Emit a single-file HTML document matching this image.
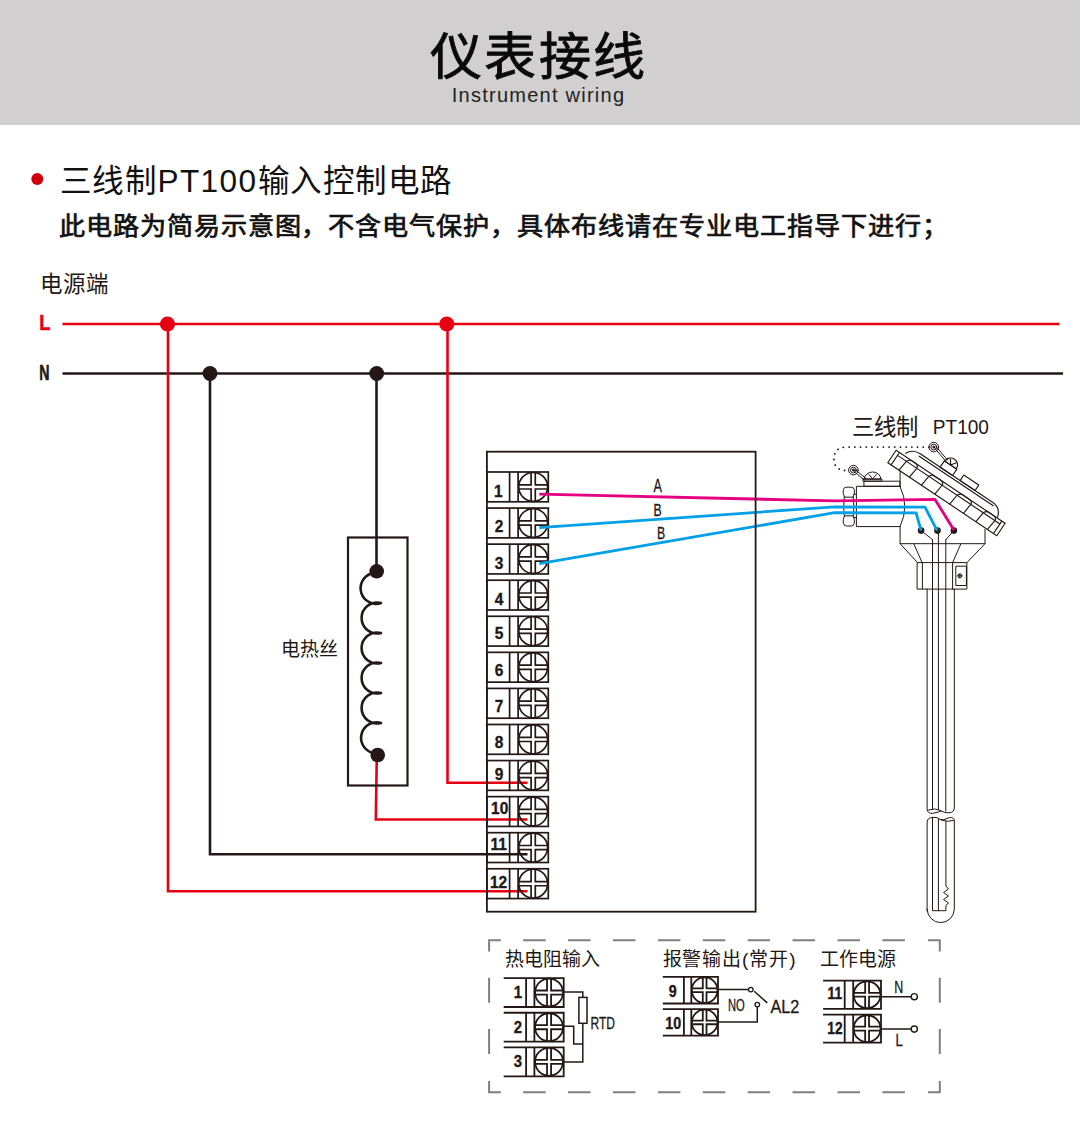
<!DOCTYPE html>
<html lang="zh-CN"><head><meta charset="utf-8">
<style>
html,body{margin:0;padding:0;background:#fff;width:1080px;height:1124px;overflow:hidden}
svg{display:block;font-family:"Liberation Sans",sans-serif}
</style></head>
<body>
<svg width="1080" height="1124" viewBox="0 0 1080 1124">

<rect x="0" y="0" width="1080" height="125" fill="#d1cfd0"/>
<text x="0" y="0" font-size="54" letter-spacing="2.7" text-anchor="middle" fill="#0a0a0a" stroke="#0a0a0a" stroke-width="0.9" transform="translate(538.5 74.5) scale(0.965 0.94)">仪表接线</text>
<text x="538.5" y="102" font-size="20" letter-spacing="1.25" text-anchor="middle" fill="#222">Instrument wiring</text>
<circle cx="37.3" cy="179" r="6" fill="#d0000f"/>
<text x="0" y="0" font-size="32.7" letter-spacing="1.5" fill="#111" transform="translate(59.8 192.3) scale(0.965 0.96)">三线制PT100输入控制电路</text>
<text x="0" y="0" font-size="27" letter-spacing="0.63" fill="#111" stroke="#111" stroke-width="0.75" transform="translate(58.6 234.6) scale(0.968 0.94)">此电路为简易示意图，不含电气保护，具体布线请在专业电工指导下进行；</text>
<text x="40" y="291.7" font-size="22.5" fill="#231815">电源端</text>
<text x="0" y="0" font-size="22.5" font-weight="bold" fill="#e60012" text-anchor="start" stroke="#e60012" stroke-width="0.5" transform="translate(39.20 330.30) scale(0.82 1)">L</text>
<text x="0" y="0" font-size="21.5" font-weight="bold" fill="#231815" text-anchor="start" stroke="#231815" stroke-width="0.6" transform="translate(39.20 380.20) scale(0.66 1)">N</text>
<g stroke-width="2.6" fill="none">
  <path d="M62.5 324H1059.5" stroke="#e60012"/>
  <path d="M62.5 373.5H1063" stroke="#231815"/>
  <path d="M168 324V891.3H527.5" stroke="#e60012"/>
  <path d="M447.5 324V782.8H527.5" stroke="#e60012"/>
  <path d="M210 373.5V854.2H527.5" stroke="#231815"/>
  <path d="M376.5 373.5V571" stroke="#231815"/>
  <path d="M376.8 755L375.8 819.5H527.5" stroke="#e60012"/>
</g>
<g fill="#e60012"><circle cx="167.5" cy="324" r="7.6"/><circle cx="446.8" cy="324" r="7.6"/></g>
<g fill="#231815"><circle cx="210" cy="373.5" r="7.4"/><circle cx="376.7" cy="373.5" r="7.4"/></g>

<rect x="348" y="537.5" width="59.5" height="248" fill="none" stroke="#231815" stroke-width="2.2"/>
<path d="M371.3 573.5 A15.5 15.5 0 1 0 381 603 A15.5 15.5 0 1 0 381 633 A15.5 15.5 0 1 0 381 663 A15.5 15.5 0 1 0 381 693 A15.5 15.5 0 1 0 381 723 A15.5 15.5 0 0 0 371.5 752.5" fill="none" stroke="#231815" stroke-width="2.6" stroke-linejoin="round"/>
<circle cx="376.7" cy="571.3" r="7.3" fill="#231815"/><circle cx="377.7" cy="755" r="7.3" fill="#231815"/>
<text x="281" y="656" font-size="19" fill="#231815">电热丝</text>
<g stroke="#231815" stroke-width="1.7" fill="none">
<rect x="486.90" y="472.00" width="61.40" height="29.80"/><path d="M509.60 472.00V501.80 M518.10 472.00V501.80"/><circle cx="533.20" cy="486.90" r="14.42"/><path d="M518.10 484.80H531.10V472.00 M535.30 472.00V484.80H548.30 M548.30 489.00H535.30V501.80 M531.10 501.80V489.00H518.10"/>
<rect x="486.90" y="508.07" width="61.40" height="29.80"/><path d="M509.60 508.07V537.87 M518.10 508.07V537.87"/><circle cx="533.20" cy="522.97" r="14.42"/><path d="M518.10 520.87H531.10V508.07 M535.30 508.07V520.87H548.30 M548.30 525.07H535.30V537.87 M531.10 537.87V525.07H518.10"/>
<rect x="486.90" y="544.14" width="61.40" height="29.80"/><path d="M509.60 544.14V573.94 M518.10 544.14V573.94"/><circle cx="533.20" cy="559.04" r="14.42"/><path d="M518.10 556.94H531.10V544.14 M535.30 544.14V556.94H548.30 M548.30 561.14H535.30V573.94 M531.10 573.94V561.14H518.10"/>
<rect x="486.90" y="580.21" width="61.40" height="29.80"/><path d="M509.60 580.21V610.01 M518.10 580.21V610.01"/><circle cx="533.20" cy="595.11" r="14.42"/><path d="M518.10 593.01H531.10V580.21 M535.30 580.21V593.01H548.30 M548.30 597.21H535.30V610.01 M531.10 610.01V597.21H518.10"/>
<rect x="486.90" y="616.28" width="61.40" height="29.80"/><path d="M509.60 616.28V646.08 M518.10 616.28V646.08"/><circle cx="533.20" cy="631.18" r="14.42"/><path d="M518.10 629.08H531.10V616.28 M535.30 616.28V629.08H548.30 M548.30 633.28H535.30V646.08 M531.10 646.08V633.28H518.10"/>
<rect x="486.90" y="652.35" width="61.40" height="29.80"/><path d="M509.60 652.35V682.15 M518.10 652.35V682.15"/><circle cx="533.20" cy="667.25" r="14.42"/><path d="M518.10 665.15H531.10V652.35 M535.30 652.35V665.15H548.30 M548.30 669.35H535.30V682.15 M531.10 682.15V669.35H518.10"/>
<rect x="486.90" y="688.42" width="61.40" height="29.80"/><path d="M509.60 688.42V718.22 M518.10 688.42V718.22"/><circle cx="533.20" cy="703.32" r="14.42"/><path d="M518.10 701.22H531.10V688.42 M535.30 688.42V701.22H548.30 M548.30 705.42H535.30V718.22 M531.10 718.22V705.42H518.10"/>
<rect x="486.90" y="724.49" width="61.40" height="29.80"/><path d="M509.60 724.49V754.29 M518.10 724.49V754.29"/><circle cx="533.20" cy="739.39" r="14.42"/><path d="M518.10 737.29H531.10V724.49 M535.30 724.49V737.29H548.30 M548.30 741.49H535.30V754.29 M531.10 754.29V741.49H518.10"/>
<rect x="486.90" y="760.56" width="61.40" height="29.80"/><path d="M509.60 760.56V790.36 M518.10 760.56V790.36"/><circle cx="533.20" cy="775.46" r="14.42"/><path d="M518.10 773.36H531.10V760.56 M535.30 760.56V773.36H548.30 M548.30 777.56H535.30V790.36 M531.10 790.36V777.56H518.10"/>
<rect x="486.90" y="796.63" width="61.40" height="29.80"/><path d="M509.60 796.63V826.43 M518.10 796.63V826.43"/><circle cx="533.20" cy="811.53" r="14.42"/><path d="M518.10 809.43H531.10V796.63 M535.30 796.63V809.43H548.30 M548.30 813.63H535.30V826.43 M531.10 826.43V813.63H518.10"/>
<rect x="486.90" y="832.70" width="61.40" height="29.80"/><path d="M509.60 832.70V862.50 M518.10 832.70V862.50"/><circle cx="533.20" cy="847.60" r="14.42"/><path d="M518.10 845.50H531.10V832.70 M535.30 832.70V845.50H548.30 M548.30 849.70H535.30V862.50 M531.10 862.50V849.70H518.10"/>
<rect x="486.90" y="868.77" width="61.40" height="29.80"/><path d="M509.60 868.77V898.57 M518.10 868.77V898.57"/><circle cx="533.20" cy="883.67" r="14.42"/><path d="M518.10 881.57H531.10V868.77 M535.30 868.77V881.57H548.30 M548.30 885.77H535.30V898.57 M531.10 898.57V885.77H518.10"/>
</g>
<text x="0" y="0" font-size="17.2" font-weight="bold" fill="#231815" text-anchor="middle" stroke="#231815" stroke-width="0.35" transform="translate(498.40 497.00) scale(0.9 1)">1</text>
<text x="0" y="0" font-size="17.2" font-weight="bold" fill="#231815" text-anchor="middle" stroke="#231815" stroke-width="0.35" transform="translate(499.00 532.40) scale(0.9 1)">2</text>
<text x="0" y="0" font-size="17.2" font-weight="bold" fill="#231815" text-anchor="middle" stroke="#231815" stroke-width="0.35" transform="translate(499.00 569.10) scale(0.9 1)">3</text>
<text x="0" y="0" font-size="17.2" font-weight="bold" fill="#231815" text-anchor="middle" stroke="#231815" stroke-width="0.35" transform="translate(499.00 604.50) scale(0.9 1)">4</text>
<text x="0" y="0" font-size="17.2" font-weight="bold" fill="#231815" text-anchor="middle" stroke="#231815" stroke-width="0.35" transform="translate(499.00 639.40) scale(0.9 1)">5</text>
<text x="0" y="0" font-size="17.2" font-weight="bold" fill="#231815" text-anchor="middle" stroke="#231815" stroke-width="0.35" transform="translate(499.00 676.00) scale(0.9 1)">6</text>
<text x="0" y="0" font-size="17.2" font-weight="bold" fill="#231815" text-anchor="middle" stroke="#231815" stroke-width="0.35" transform="translate(499.00 711.50) scale(0.9 1)">7</text>
<text x="0" y="0" font-size="17.2" font-weight="bold" fill="#231815" text-anchor="middle" stroke="#231815" stroke-width="0.35" transform="translate(499.00 747.50) scale(0.9 1)">8</text>
<text x="0" y="0" font-size="17.2" font-weight="bold" fill="#231815" text-anchor="middle" stroke="#231815" stroke-width="0.35" transform="translate(499.00 779.70) scale(0.9 1)">9</text>
<text x="0" y="0" font-size="17.2" font-weight="bold" fill="#231815" text-anchor="middle" stroke="#231815" stroke-width="0.35" transform="translate(499.70 814.40) scale(0.9 1)">10</text>
<text x="0" y="0" font-size="17.2" font-weight="bold" fill="#231815" text-anchor="middle" stroke="#231815" stroke-width="0.35" transform="translate(498.60 849.80) scale(0.9 1)">11</text>
<text x="0" y="0" font-size="17.2" font-weight="bold" fill="#231815" text-anchor="middle" stroke="#231815" stroke-width="0.35" transform="translate(498.60 887.80) scale(0.9 1)">12</text>
<text x="852" y="434.8" font-size="22.3" fill="#231815" stroke="#231815" stroke-width="0.12">三线制</text>
<text x="0" y="0" font-size="20.5" font-weight="normal" fill="#231815" text-anchor="start" transform="translate(932.80 433.60) scale(0.93 1)">PT100</text>
<g fill="none" stroke="#231815" stroke-width="1" stroke-linejoin="round" stroke-linecap="round">
<path d="M929 447.1H846 Q834 447.5 834 459 Q834 470.6 847 470.6" stroke-dasharray="0.1 5.6" stroke-width="1.8"/>
<circle cx="853.4" cy="470.1" r="4.8"/><circle cx="853.4" cy="470.1" r="2.9"/><circle cx="853.4" cy="470.1" r="1" fill="#231815"/>
<circle cx="933.8" cy="447.1" r="4.8"/><circle cx="933.8" cy="447.1" r="2.9"/><circle cx="933.8" cy="447.1" r="1" fill="#231815"/>
<path d="M854 471.5L864.5 480.2 M855.5 470L866 478.5"/>
<path d="M935 448.5L946 461.5 M936.8 447.5L947.5 460"/>
<path d="M864.3 478.9A8.3 6.9 0 0 1 880.9 478.9Z M869 474.5L872.6 478.9L876.3 474.5"/>
<rect x="863.3" y="478.9" width="18.6" height="2.3"/>
<rect x="864.3" y="481.2" width="35.7" height="5.1"/>
<path d="M900 486.3H856.4V526.6H900 M900 486.3Q909.8 506.5 900 526.6"/>
<path d="M844.3 496.8Q842.6 493 843.3 489.8Q844 487.2 846.5 487.2H851.5Q853.8 487.2 854.3 489.8Q855 493 853.3 496.8Z"/>
<path d="M844.3 516.2Q842.6 520 843.3 523.2Q844 526 846.5 526H851.5Q853.8 526 854.3 523.2Q855 520 853.3 516.2Z"/>
<path d="M844.3 496.8Q843 506.5 844.3 516.2 M853.3 496.8Q854.6 506.5 853.3 516.2 M853.8 494.2H856.4 M853.8 517.5H856.4"/>
<path d="M900.1 471.1V486.3 M900.1 526.6V543.7H985V529.4"/>
<path d="M900.1 543.7L917.5 562.6 M985 543.7L966.9 562.6 M913.9 544L922.1 562.6 M960.8 544L952.6 562.6"/>
<rect x="917.5" y="562.6" width="49.4" height="26.5"/>
<path d="M922.4 562.6V589.1 M952.6 562.6V589.1"/>
<rect x="956.2" y="566.2" width="10.2" height="19.3"/>
<circle cx="959.8" cy="575.8" r="2"/><path d="M957.8 575.8H961.8M959.8 573.8V577.8"/>
<path d="M927.1 589.1V809 Q927.5 814 933 813.3 Q939 812 941 811 Q944.5 813 949 812.8 Q954.3 812.5 954.3 808V589.1"/>
<path d="M928.5 810Q935 807.5 941 810.5"/>
<path d="M932.5 539.7V809.5 M938.4 531V809.5 M945.8 539.7V811"/>
<path d="M921.1 530.6L932.6 539.7 M953.9 530.6L945.8 539.7"/>
<path d="M927.1 911V822 Q927.5 817.5 933 817.3 Q938 817 940 819.5 Q943 820.5 947 818.5 Q952 816 954.3 819.5V909 A13.6 13.6 0 0 1 927.1 909"/>
<path d="M941 820Q948 822.5 953.5 820.5"/>
<path d="M932.5 817.5V910.7H945.9V905.3L948.5 903L943.5 899.5L948.5 896L943.5 892.5L948.5 889L945.9 886V821 M938.4 818.5V910.7"/>
</g>
<g transform="translate(887.8 462.7) rotate(33.8)" fill="none" stroke="#231815" stroke-width="1.15" stroke-linejoin="round">
<rect x="0" y="-14.9" width="131.2" height="14.9"/>
<path d="M4 -14.9V0 M127.2 -14.9V0 M4 -11.5H127.2"/>
<path d="M13.5 0L14.7 -11.8"/>
<path d="M26 0L27.2 -11.8"/>
<path d="M40.5 0L41.7 -11.8"/>
<path d="M56.5 0L57.7 -11.8"/>
<path d="M74.5 0L75.7 -11.8"/>
<path d="M91 0L92.2 -11.8"/>
<path d="M106 0L107.2 -11.8"/>
<path d="M120 0L121.2 -11.8"/>
<path d="M14.7 -11.8Q16.5 -14.9 19.0 -14.9L22.5 -14.9Q27 -14.9 27.2 -11.8"/>
<path d="M41.7 -11.8Q43.5 -14.9 46.0 -14.9L53.0 -14.9Q57.5 -14.9 57.7 -11.8"/>
<path d="M75.7 -11.8Q77.5 -14.9 80.0 -14.9L87.5 -14.9Q92 -14.9 92.2 -11.8"/>
<path d="M107.2 -11.8Q109 -14.9 111.5 -14.9L116.5 -14.9Q121 -14.9 121.2 -11.8"/>
<path d="M9.4 -17.4Q13 -25.4 22 -25.4H109 Q119 -25.4 121.6 -15.4 M22 -22.9H112"/>
<rect x="70" y="-32" width="18" height="6.6"/>
<rect x="46" y="-33" width="15" height="7.6"/>
<path d="M46.5 -33A7 7 0 0 1 60.5 -33Z M50 -38L53.5 -33L57 -38"/>
</g>
<g fill="#231815"><circle cx="921.1" cy="530.6" r="3.3"/><circle cx="937.5" cy="530.6" r="3.3"/><circle cx="953.9" cy="530.6" r="3.3"/></g>
<g stroke-width="2.8" fill="none" stroke-linejoin="round">
<path d="M539.3 494.1L834.8 500.9L935 499.4L953.9 530" stroke="#e4007f"/>
<path d="M539.3 527.6L834.8 506.8L925 507.2L937.2 530.6" stroke="#00a0e9"/>
<path d="M539.3 563.7L834.8 512.7L916.1 512.8L921.1 530.6" stroke="#00a0e9"/>
</g>
<text x="0" y="0" font-size="18" font-weight="normal" fill="#231815" text-anchor="middle" stroke="#231815" stroke-width="0.3" transform="translate(657.60 491.70) scale(0.7 1)">A</text>
<text x="0" y="0" font-size="17" font-weight="normal" fill="#231815" text-anchor="middle" stroke="#231815" stroke-width="0.3" transform="translate(657.60 516.30) scale(0.72 1)">B</text>
<text x="0" y="0" font-size="17" font-weight="normal" fill="#231815" text-anchor="middle" stroke="#231815" stroke-width="0.3" transform="translate(661.00 539.40) scale(0.72 1)">B</text>
<rect x="486.9" y="451.7" width="268.7" height="460" fill="none" stroke="#231815" stroke-width="1.8"/>
<path d="M489.1 951.4000000000001V940.2H500.8 M928.0999999999999 940.2H939.8V951.4000000000001 M939.8 1081.0V1092.2H928.0999999999999 M500.8 1092.2H489.1V1081.0 M523.2 940.2H545.7 M568.1 940.2H590.6 M613.0 940.2H635.5 M657.9 940.2H680.4 M702.8 940.2H725.3 M747.7 940.2H770.2 M792.6 940.2H815.1 M837.5 940.2H860.0 M882.4 940.2H904.9 M523.2 1092.2H545.7 M568.1 1092.2H590.6 M613.0 1092.2H635.5 M657.9 1092.2H680.4 M702.8 1092.2H725.3 M747.7 1092.2H770.2 M792.6 1092.2H815.1 M837.5 1092.2H860.0 M882.4 1092.2H904.9 M489.1 977.8V1002.7 M489.1 1029.1V1054.0 M939.8 977.8V1002.7 M939.8 1029.1V1054.0" fill="none" stroke="#808080" stroke-width="2"/>
<text x="504.5" y="966" font-size="19" fill="#231815">热电阻输入</text>
<text x="662.5" y="966" font-size="19" letter-spacing="0.9" fill="#231815">报警输出(常开)</text>
<text x="820" y="966" font-size="19" fill="#231815">工作电源</text>
<g stroke="#231815" stroke-width="1.8" fill="none">
<path d="M503.70 978.10H563.70V1007.00H503.70"/><path d="M526.10 978.10V1007.00 M534.40 978.10V1007.00"/><circle cx="549.05" cy="992.55" r="13.97"/><path d="M534.40 990.51H547.01V978.10 M551.09 978.10V990.51H563.70 M563.70 994.59H551.09V1007.00 M547.01 1007.00V994.59H534.40"/>
<path d="M503.70 1012.75H563.70V1041.65H503.70"/><path d="M526.10 1012.75V1041.65 M534.40 1012.75V1041.65"/><circle cx="549.05" cy="1027.20" r="13.97"/><path d="M534.40 1025.16H547.01V1012.75 M551.09 1012.75V1025.16H563.70 M563.70 1029.24H551.09V1041.65 M547.01 1041.65V1029.24H534.40"/>
<path d="M503.70 1047.40H563.70V1076.30H503.70"/><path d="M526.10 1047.40V1076.30 M534.40 1047.40V1076.30"/><circle cx="549.05" cy="1061.85" r="13.97"/><path d="M534.40 1059.81H547.01V1047.40 M551.09 1047.40V1059.81H563.70 M563.70 1063.89H551.09V1076.30 M547.01 1076.30V1063.89H534.40"/>
<path d="M662.80 976.90H718.00V1003.50H662.80"/><path d="M683.90 976.90V1003.50 M691.30 976.90V1003.50"/><circle cx="704.65" cy="990.20" r="12.82"/><path d="M691.30 988.34H702.79V976.90 M706.51 976.90V988.34H718.00 M718.00 992.06H706.51V1003.50 M702.79 1003.50V992.06H691.30"/>
<path d="M662.80 1009.10H718.00V1035.70H662.80"/><path d="M683.90 1009.10V1035.70 M691.30 1009.10V1035.70"/><circle cx="704.65" cy="1022.40" r="12.82"/><path d="M691.30 1020.54H702.79V1009.10 M706.51 1009.10V1020.54H718.00 M718.00 1024.26H706.51V1035.70 M702.79 1035.70V1024.26H691.30"/>
<path d="M823.10 980.70H881.00V1008.80H823.10"/><path d="M844.70 980.70V1008.80 M853.20 980.70V1008.80"/><circle cx="867.10" cy="994.75" r="13.42"/><path d="M853.20 992.82H865.17V980.70 M869.03 980.70V992.82H881.00 M881.00 996.68H869.03V1008.80 M865.17 1008.80V996.68H853.20"/>
<path d="M823.10 1014.60H881.00V1042.70H823.10"/><path d="M844.70 1014.60V1042.70 M853.20 1014.60V1042.70"/><circle cx="867.10" cy="1028.65" r="13.42"/><path d="M853.20 1026.72H865.17V1014.60 M869.03 1014.60V1026.72H881.00 M881.00 1030.58H869.03V1042.70 M865.17 1042.70V1030.58H853.20"/>
</g>
<g stroke="#231815" stroke-width="1.5" fill="none">
<path d="M563.7 991.9H582.8V997.4 M582.8 1023.3V1061.9H563.7 M563.7 1026.3H573.7V1044.1H582.8"/>
<rect x="578.9" y="997.4" width="8.1" height="25.9"/>
<path d="M718 989.6H748.5 M754.2 991.25L767.3 1002.9 M757.3 1006.9V1022.1H718"/>
<circle cx="750.8" cy="989.6" r="2.3" stroke-width="1.3"/><circle cx="757.3" cy="1004.6" r="2.3" stroke-width="1.3"/>
<path d="M881 996.7H911 M881 1029.1H911"/>
<circle cx="914.3" cy="996.7" r="3.1" stroke-width="1.4"/><circle cx="914.3" cy="1029.1" r="3.1" stroke-width="1.4"/>
</g>
<text x="0" y="0" font-size="17" font-weight="bold" fill="#231815" text-anchor="middle" stroke="#231815" stroke-width="0.35" transform="translate(517.80 998.30) scale(0.88 1)">1</text>
<text x="0" y="0" font-size="17" font-weight="bold" fill="#231815" text-anchor="middle" stroke="#231815" stroke-width="0.35" transform="translate(518.00 1032.80) scale(0.88 1)">2</text>
<text x="0" y="0" font-size="17" font-weight="bold" fill="#231815" text-anchor="middle" stroke="#231815" stroke-width="0.35" transform="translate(518.00 1066.70) scale(0.88 1)">3</text>
<text x="0" y="0" font-size="16.2" font-weight="bold" fill="#231815" text-anchor="middle" stroke="#231815" stroke-width="0.35" transform="translate(672.60 996.90) scale(0.88 1)">9</text>
<text x="0" y="0" font-size="16.2" font-weight="bold" fill="#231815" text-anchor="middle" stroke="#231815" stroke-width="0.35" transform="translate(673.30 1028.70) scale(0.88 1)">10</text>
<text x="0" y="0" font-size="15.6" font-weight="bold" fill="#231815" text-anchor="middle" stroke="#231815" stroke-width="0.35" transform="translate(834.80 999.30) scale(0.88 1)">11</text>
<text x="0" y="0" font-size="15.6" font-weight="bold" fill="#231815" text-anchor="middle" stroke="#231815" stroke-width="0.35" transform="translate(835.00 1034.20) scale(0.88 1)">12</text>
<text x="0" y="0" font-size="16" font-weight="normal" fill="#231815" text-anchor="start" stroke="#231815" stroke-width="0.3" transform="translate(590.60 1028.90) scale(0.75 1)">RTD</text>
<text x="0" y="0" font-size="16" font-weight="normal" fill="#231815" text-anchor="start" stroke="#231815" stroke-width="0.3" transform="translate(727.90 1010.80) scale(0.7 1)">NO</text>
<text x="0" y="0" font-size="17.5" font-weight="normal" fill="#231815" text-anchor="start" stroke="#231815" stroke-width="0.3" transform="translate(770.40 1012.50) scale(0.93 1)">AL2</text>
<text x="0" y="0" font-size="16.5" font-weight="normal" fill="#231815" text-anchor="start" stroke="#231815" stroke-width="0.3" transform="translate(894.20 993.40) scale(0.75 1)">N</text>
<text x="0" y="0" font-size="16.5" font-weight="normal" fill="#231815" text-anchor="start" stroke="#231815" stroke-width="0.3" transform="translate(895.50 1045.90) scale(0.8 1)">L</text>
</svg>
</body></html>
